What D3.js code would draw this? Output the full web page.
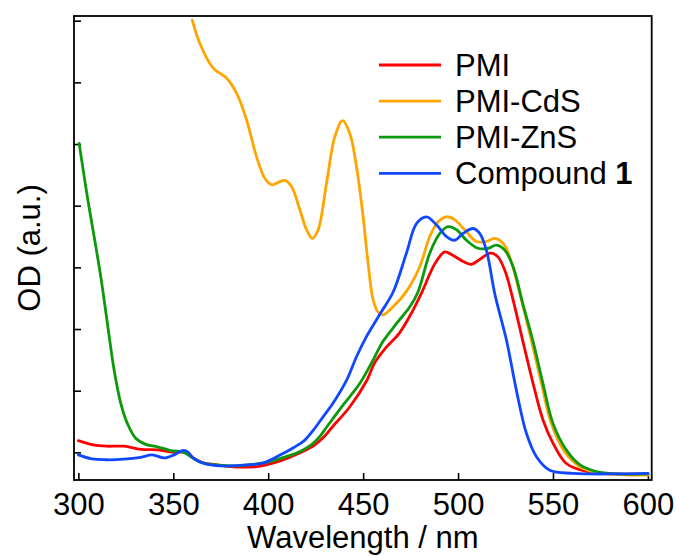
<!DOCTYPE html>
<html>
<head>
<meta charset="utf-8">
<script src="https://cdn.jsdelivr.net/npm/d3@7"></script>
<style>
  html, body { margin: 0; padding: 0; background: #fff; }
  svg text { font-family: "Liberation Sans", Arial, sans-serif; fill: #000; }
</style>
</head>
<body>
<svg id="chart" width="676" height="556"></svg>
<script>
// =======================
//  Data (wavelength nm, OD a.u.)
// =======================

var seriesNames = ["PMI", "PMI-CdS", "PMI-ZnS", "Compound"];
var seriesColors = ["#ff0000", "#ffa500", "#0b9a0b", "#1048ff"];

var pmi = [
    [300, 0.019], [308, 0.012], [315, 0.010], [324, 0.010], [333, 0.005], [342, 0.004],
    [350, 0.000], [356, 0.000], [360, -0.008], [365, -0.016], [372, -0.020], [380, -0.023],
    [386, -0.024], [394, -0.023], [403, -0.017], [412, -0.007], [418, 0.001], [424, 0.011],
    [429, 0.024], [434, 0.042], [443, 0.074], [452, 0.117], [456, 0.145], [462, 0.170],
    [469, 0.193], [476, 0.229], [481, 0.260], [488, 0.307], [493, 0.325], [497, 0.320],
    [503, 0.309], [507, 0.305], [511, 0.312], [517, 0.323], [521, 0.317], [525, 0.292],
    [529, 0.247], [534, 0.182], [539.5, 0.112], [544.7, 0.053], [550, 0.015], [557, -0.018],
    [567.6, -0.031], [581.6, -0.035], [600, -0.035]
];

var pmiCdS = [
    [360, 0.701], [364, 0.663], [371, 0.623], [378, 0.607], [383.4, 0.582], [388.6, 0.539],
    [393.9, 0.479], [398.3, 0.444], [401.8, 0.434], [406.2, 0.439], [408.8, 0.441],
    [412.3, 0.431], [416.7, 0.393], [420.2, 0.361], [423.2, 0.347], [426.3, 0.361],
    [430.7, 0.436], [435.1, 0.512], [439.2, 0.538], [443, 0.517], [446.5, 0.463],
    [450, 0.382], [452.6, 0.307], [455.3, 0.247], [458, 0.227], [460.5, 0.223],
    [465.8, 0.236], [472.8, 0.261], [479.8, 0.301], [485.1, 0.350], [489.5, 0.374],
    [493.9, 0.382], [498.3, 0.377], [503.5, 0.361], [509.7, 0.342], [514.9, 0.342],
    [519.3, 0.347], [523.7, 0.339], [527.2, 0.317], [533.4, 0.247], [538.6, 0.182],
    [543.9, 0.112], [549.1, 0.047], [556.1, 0.001], [564.1, -0.023], [572.8, -0.033],
    [585, -0.036], [600, -0.037]
];

var pmiZnS = [
    [300.4, 0.501], [304.7, 0.415], [308.3, 0.350], [311.8, 0.285], [315.3, 0.209],
    [318.8, 0.134], [322.3, 0.080], [325.8, 0.047], [330.2, 0.023], [335.5, 0.013],
    [341.6, 0.009], [348.6, 0.003], [355.6, 0.000], [359.2, -0.007], [364.4, -0.016],
    [371.4, -0.020], [382, -0.022], [390.7, -0.020], [399.5, -0.016], [408.3, -0.008],
    [417.1, 0.002], [423, 0.013], [427, 0.025], [431, 0.042], [439.5, 0.077], [448.3, 0.112],
    [455.3, 0.150], [460.5, 0.180], [467.6, 0.209], [474.6, 0.236], [478.9, 0.260],
    [485.1, 0.323], [490.4, 0.355], [494.7, 0.366], [499.2, 0.361], [504.4, 0.344],
    [510.5, 0.331], [515.8, 0.331], [520.2, 0.336], [524.6, 0.328], [529, 0.301],
    [534.2, 0.240], [539.5, 0.180], [544.7, 0.112], [550, 0.047], [557, 0.004],
    [564.1, -0.020], [572.8, -0.031], [585, -0.035], [600, -0.035]
];

var compound1 = [
    [300, -0.004], [306.5, -0.010], [315.3, -0.012], [324, -0.011], [332.8, -0.008],
    [338.9, -0.004], [345.1, -0.009], [350.4, -0.004], [354.7, 0.003], [357.4, 0.001],
    [360.9, -0.010], [366.2, -0.018], [374.9, -0.022], [390.7, -0.020], [397.7, -0.017],
    [406.5, -0.004], [413.5, 0.008], [419, 0.019], [424, 0.037], [429, 0.058], [434.2, 0.080],
    [441.3, 0.117], [446.5, 0.155], [451.8, 0.188], [458.8, 0.224], [465.8, 0.260],
    [472.8, 0.323], [478.1, 0.371], [483.4, 0.382], [488.6, 0.369], [493.9, 0.350],
    [498.3, 0.344], [502.6, 0.355], [507.9, 0.363], [511.4, 0.355], [514.9, 0.328],
    [519.5, 0.255], [525.5, 0.182], [530.7, 0.101], [536, 0.031], [541.3, -0.007],
    [548.3, -0.029], [560.5, -0.034], [581.6, -0.035], [600, -0.034]
];

var xTicks = [300, 350, 400, 450, 500, 550, 600];
var yTicks = [0, 0.1, 0.2, 0.3, 0.4, 0.5, 0.6, 0.7];

// =======================
//  Layout
// =======================

var svg = d3.select("#chart");
var plotL = 74, plotR = 651.7, plotT = 16, plotB = 480;

var x = d3.scaleLinear().domain([297.7, 602]).range([plotL, plotR]);
var y = d3.scaleLinear().domain([-0.0448, 0.7076]).range([plotB, plotT]);

svg.append("clipPath").attr("id", "plotclip")
    .append("rect")
    .attr("x", plotL).attr("y", plotT)
    .attr("width", plotR - plotL).attr("height", plotB - plotT);

// axes (ticks inward, no labels on y)
var xAxis = svg.append("g")
    .attr("transform", "translate(0," + plotB + ")")
    .call(d3.axisBottom(x).tickValues(xTicks).tickSizeInner(-7).tickSizeOuter(0).tickPadding(13));
xAxis.select(".domain").remove();
xAxis.selectAll("line").attr("stroke", "#000").attr("stroke-width", 1.6);
xAxis.selectAll("text")
    .style("font-size", "31px")
    .style("font-family", "'Liberation Sans', Arial, sans-serif");

var yAxis = svg.append("g")
    .attr("transform", "translate(" + plotL + ",0)")
    .call(d3.axisLeft(y).tickValues(yTicks).tickSizeInner(-7).tickSizeOuter(0).tickFormat(""));
yAxis.select(".domain").remove();
yAxis.selectAll("line").attr("stroke", "#000").attr("stroke-width", 1.6);

// curves
var line = d3.line()
    .x(d => x(d[0]))
    .y(d => y(d[1]))
    .curve(d3.curveCatmullRom.alpha(0.5));

var allSeries = [pmi, pmiCdS, pmiZnS, compound1];

svg.append("g").attr("clip-path", "url(#plotclip)")
    .selectAll("path")
    .data(allSeries)
    .join("path")
    .attr("d", d => line(d))
    .attr("fill", "none")
    .attr("stroke", (d, i) => seriesColors[i])
    .attr("stroke-width", 2.8)
    .attr("stroke-linejoin", "round")
    .attr("stroke-linecap", "round");

// frame
svg.append("rect")
    .attr("x", plotL).attr("y", plotT)
    .attr("width", plotR - plotL).attr("height", plotB - plotT)
    .attr("fill", "none")
    .attr("stroke", "#000")
    .attr("stroke-width", 1.8);

// axis titles
svg.append("text")
    .attr("x", (plotL + plotR) / 2)
    .attr("y", 548)
    .attr("text-anchor", "middle")
    .style("font-size", "31px")
    .text("Wavelength / nm");

svg.append("text")
    .attr("transform", "translate(40," + ((plotT + plotB) / 2) + ") rotate(-90)")
    .attr("text-anchor", "middle")
    .style("font-size", "31px")
    .text("OD (a.u.)");

// legend
var legend = svg.append("g");
var legendY = d3.scaleLinear().domain([0, 1]).range([65, 101.1]);

var items = legend.selectAll("g")
    .data(seriesNames)
    .join("g")
    .attr("transform", (d, i) => "translate(0," + legendY(i) + ")");

items.append("line")
    .attr("x1", 379).attr("x2", 441)
    .attr("stroke", (d, i) => seriesColors[i])
    .attr("stroke-width", 2.8);

var labels = items.append("text")
    .attr("x", 455)
    .attr("dy", "0.35em")
    .style("font-size", "31px");

labels.append("tspan").text(d => d);
labels.filter(d => d === "Compound")
    .append("tspan")
    .style("font-weight", "bold")
    .text(" 1");
</script>
</body>
</html>
